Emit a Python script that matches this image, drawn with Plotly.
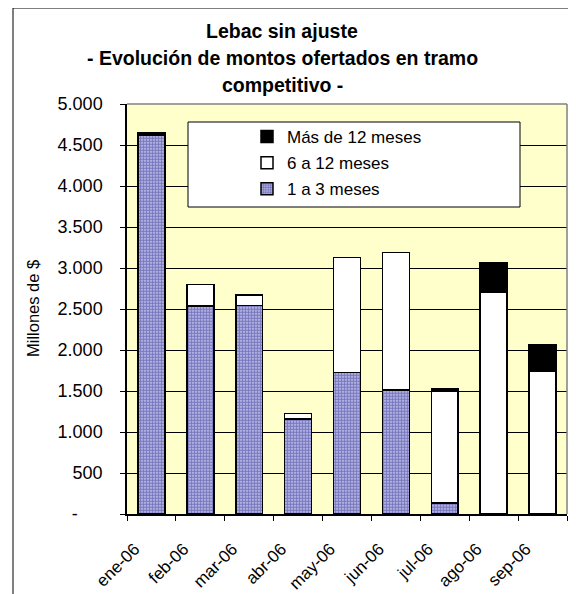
import plotly.graph_objects as go

# ---- data ----
CATEGORIES = ["ene-06", "feb-06", "mar-06", "abr-06", "may-06", "jun-06", "jul-06", "ago-06", "sep-06"]
S_1A3 = [4615, 2537, 2540, 1160, 1728, 1512, 135, 0, 0]
S_6A12 = [0, 264, 130, 65, 1400, 1680, 1365, 2705, 1745]
S_MAS12 = [30, 0, 0, 0, 0, 0, 30, 365, 315]
SERIES_NAMES = ["1 a 3 meses", "6 a 12 meses", "Más de 12 meses"]
Y_TICK_VALUES = [0, 500, 1000, 1500, 2000, 2500, 3000, 3500, 4000, 4500, 5000]
Y_TICK_LABELS = ["-" + "\u00a0" * 5, "500", "1.000", "1.500", "2.000", "2.500",
                 "3.000", "3.500", "4.000", "4.500", "5.000"]
TITLE_LINES = ["Lebac sin ajuste", "- Evolución de montos ofertados en tramo", "competitivo -"]
Y_TITLE = "Millones de $"

# page has an 8px body margin: work in page pixels and convert
OFF = 8
W, H = 576 - OFF, 594 - OFF
PL, PR, PT, PB = 127, 567, 104, 514  # plot area in page px
L, R, T, B = PL - OFF, PR - OFF, PT - OFF, PB - OFF


def px_x(x):
    return (x - PL) / (PR - PL)


def px_y(y):
    return (PB - y) / (PB - PT)


FONT = "Liberation Sans, Arial, sans-serif"

fig = go.Figure()
fig.add_trace(go.Bar(
    x=CATEGORIES, y=S_1A3, name=SERIES_NAMES[0], legendgroup="g1", legendrank=3,
    marker=dict(color="#c0c0ec",
                pattern=dict(shape=".", fgcolor="#202088", bgcolor="#d0d0f4", size=3, solidity=0.7),
                line=dict(color="black", width=1.5)),
))
fig.add_trace(go.Bar(
    x=CATEGORIES, y=S_6A12, name=SERIES_NAMES[1], legendgroup="g2", legendrank=2,
    marker=dict(color="white", line=dict(color="black", width=1.5)),
))
fig.add_trace(go.Bar(
    x=CATEGORIES, y=S_MAS12, name=SERIES_NAMES[2], legendgroup="g3", legendrank=1,
    marker=dict(color="black", line=dict(color="black", width=1.5)),
))

shapes = [
    # legend box
    dict(type="rect", xref="paper", yref="paper",
         x0=px_x(188), x1=px_x(520), y0=px_y(207), y1=px_y(122),
         fillcolor="white", line=dict(color="black", width=1), layer="above"),
    # grey plot border top/right
    dict(type="line", xref="paper", yref="paper", x0=0, x1=1, y0=1, y1=1,
         line=dict(color="#808080", width=1.5), layer="above"),
    dict(type="line", xref="paper", yref="paper", x0=1, x1=1, y0=0, y1=1,
         line=dict(color="#808080", width=1.5), layer="above"),
    # outer chart border
    dict(type="rect", xref="paper", yref="paper",
         x0=px_x(13), x1=px_x(600), y0=px_y(620), y1=px_y(8),
         line=dict(color="black", width=1), fillcolor="rgba(0,0,0,0)", layer="above"),
]

annotations = []
for text, yc in zip(TITLE_LINES, [31, 58, 85]):
    annotations.append(dict(
        text="<b>%s</b>" % text, xref="paper", yref="paper",
        x=px_x(282), y=px_y(yc), xanchor="center", yanchor="middle",
        showarrow=False, font=dict(family=FONT, size=19.5, color="black")))
annotations.append(dict(
    text=Y_TITLE, xref="paper", yref="paper", x=px_x(33), y=px_y(309),
    xanchor="center", yanchor="middle", textangle=-90, showarrow=False,
    font=dict(family=FONT, size=16.5, color="black")))

fig.update_layout(
    width=W, height=H, autosize=False,
    margin=dict(l=L, r=W - R, t=T, b=H - B, pad=0, autoexpand=False),
    paper_bgcolor="white", plot_bgcolor="#ffffcc",
    barmode="stack", bargap=0.45,
    font=dict(family=FONT, size=16, color="black"),
    showlegend=True,
    legend=dict(x=px_x(247), y=px_y(119), xanchor="left", yanchor="top",
                bgcolor="rgba(0,0,0,0)", borderwidth=0, traceorder="grouped",
                tracegroupgap=1,
                font=dict(family=FONT, size=17, color="black")),
    shapes=shapes, annotations=annotations,
)
fig.update_xaxes(
    type="category", tickson="boundaries", ticks="outside", ticklen=5,
    tickvals=CATEGORIES, ticktext=[c + "\u00a0" * 5 for c in CATEGORIES],
    tickcolor="black", tickwidth=1, showline=True, linecolor="black", linewidth=1.5,
    showgrid=False, tickangle=-45, tickfont=dict(family=FONT, size=17), fixedrange=True,
    automargin=False,
)
fig.update_yaxes(
    range=[0, 5000], tickvals=Y_TICK_VALUES, ticktext=Y_TICK_LABELS,
    ticks="outside", ticklen=5, tickcolor="black", tickwidth=1,
    showline=True, linecolor="black", linewidth=1.5,
    showgrid=True, gridcolor="black", gridwidth=1, zeroline=False,
    tickfont=dict(family=FONT, size=18), ticklabelstandoff=14, fixedrange=True,
    automargin=False,
)

fig.write_html("out.html")
